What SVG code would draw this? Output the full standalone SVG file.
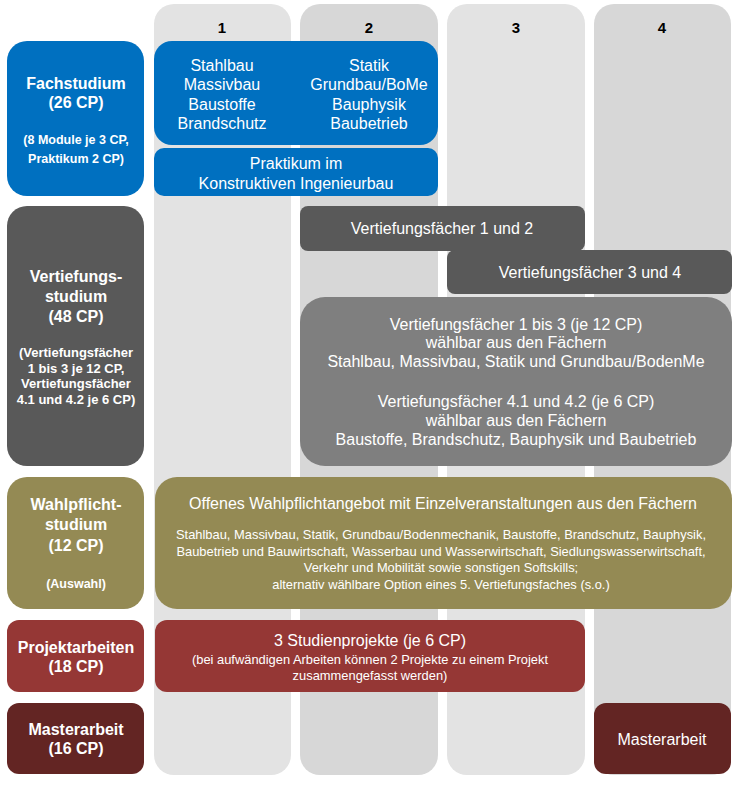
<svg xmlns="http://www.w3.org/2000/svg" width="744" height="785" viewBox="0 0 744 785">
<style>
text{font-family:"Liberation Sans",Arial,sans-serif;text-anchor:middle;fill:#fff}
.h{font-weight:bold;font-size:15px;fill:#000}
.t{font-weight:bold;font-size:16px}
.s{font-weight:bold;font-size:12.5px}
.s2{font-weight:bold;font-size:13px}
.r{font-size:16px}
.m{font-size:12.9px}
.ca{fill:#e3e3e3}
.cb{fill:#d7d7d7}
.blue{fill:#0070c0}
.dg{fill:#595959}
.mg{fill:#7f7f7f}
.ol{fill:#948a54}
.red{fill:#953735}
.dr{fill:#632523}
</style>
<rect width="744" height="785" fill="#fff"/>
<g id="columns">
<rect class="ca" x="154" y="4" width="137" height="771" rx="20"/>
<rect class="cb" x="300" y="4" width="138" height="771" rx="20"/>
<rect class="ca" x="447" y="4" width="138" height="771" rx="20"/>
<rect class="cb" x="594" y="4" width="137" height="771" rx="20"/>
<text class="h" x="222" y="33">1</text>
<text class="h" x="369" y="33">2</text>
<text class="h" x="516" y="33">3</text>
<text class="h" x="662" y="33">4</text>
</g>
<g id="fachstudium">
<rect class="blue" x="7" y="41" width="137" height="155" rx="20"/>
<text class="t" x="76" y="89">Fachstudium</text>
<text class="t" x="76" y="108">(26 CP)</text>
<text class="s" x="76" y="144">(8 Module je 3 CP,</text>
<text class="s" x="76" y="163">Praktikum 2 CP)</text>
</g>
<g id="faecher">
<rect class="blue" x="154" y="41" width="284" height="104" rx="18"/>
<text class="r" x="222" y="71">Stahlbau</text>
<text class="r" x="222" y="90">Massivbau</text>
<text class="r" x="222" y="110">Baustoffe</text>
<text class="r" x="222" y="129">Brandschutz</text>
<text class="r" x="369" y="71">Statik</text>
<text class="r" x="369" y="90">Grundbau/BoMe</text>
<text class="r" x="369" y="110">Bauphysik</text>
<text class="r" x="369" y="129">Baubetrieb</text>
</g>
<g id="praktikum">
<rect class="blue" x="154" y="148" width="284" height="48" rx="10"/>
<text class="r" x="296" y="169">Praktikum im</text>
<text class="r" x="296" y="189">Konstruktiven Ingenieurbau</text>
</g>
<g id="vertiefungsstudium">
<rect class="dg" x="7" y="206" width="137" height="260" rx="20"/>
<text class="t" x="76" y="282">Vertiefungs-</text>
<text class="t" x="76" y="302">studium</text>
<text class="t" x="76" y="322">(48 CP)</text>
<text class="s2" x="76" y="357">(Vertiefungsfächer</text>
<text class="s2" x="76" y="373">1 bis 3 je 12 CP,</text>
<text class="s2" x="76" y="388">Vertiefungsfächer</text>
<text class="s2" x="76" y="404">4.1 und 4.2 je 6 CP)</text>
</g>
<g id="vf12">
<rect class="dg" x="300" y="206" width="285" height="45" rx="8"/>
<text class="r" x="442" y="234">Vertiefungsfächer 1 und 2</text>
</g>
<g id="vf34">
<rect class="dg" x="447" y="250" width="285" height="44" rx="8"/>
<text class="r" x="590" y="278">Vertiefungsfächer 3 und 4</text>
</g>
<g id="vfdetail">
<rect class="mg" x="300" y="297" width="432" height="169" rx="25"/>
<text class="r" x="516" y="330">Vertiefungsfächer 1 bis 3 (je 12 CP)</text>
<text class="r" x="516" y="348">wählbar aus den Fächern</text>
<text class="r" x="516" y="367">Stahlbau, Massivbau, Statik und Grundbau/BodenMe</text>
<text class="r" x="516" y="407">Vertiefungsfächer 4.1 und 4.2 (je 6 CP)</text>
<text class="r" x="516" y="426">wählbar aus den Fächern</text>
<text class="r" x="516" y="445">Baustoffe, Brandschutz, Bauphysik und Baubetrieb</text>
</g>
<g id="wahlpflichtstudium">
<rect class="ol" x="7" y="477" width="137" height="132" rx="20"/>
<text class="t" x="76" y="510">Wahlpflicht-</text>
<text class="t" x="76" y="530">studium</text>
<text class="t" x="76" y="551">(12 CP)</text>
<text class="s" x="76" y="588">(Auswahl)</text>
</g>
<g id="wahlpflichtangebot">
<rect class="ol" x="155" y="477" width="577" height="132" rx="22"/>
<text class="r" x="443" y="509">Offenes Wahlpflichtangebot mit Einzelveranstaltungen aus den Fächern</text>
<text class="m" x="441" y="539">Stahlbau, Massivbau, Statik, Grundbau/Bodenmechanik, Baustoffe, Brandschutz, Bauphysik,</text>
<text class="m" x="441" y="556">Baubetrieb und Bauwirtschaft, Wasserbau und Wasserwirtschaft, Siedlungswasserwirtschaft,</text>
<text class="m" x="441" y="572">Verkehr und Mobilität sowie sonstigen Softskills;</text>
<text class="m" x="441" y="589">alternativ wählbare Option eines 5. Vertiefungsfaches (s.o.)</text>
</g>
<g id="projektarbeiten">
<rect class="red" x="7" y="620" width="137" height="72" rx="12"/>
<text class="t" x="76" y="653">Projektarbeiten</text>
<text class="t" x="76" y="672">(18 CP)</text>
</g>
<g id="studienprojekte">
<rect class="red" x="155" y="620" width="430" height="72" rx="12"/>
<text class="r" x="370" y="646">3 Studienprojekte (je 6 CP)</text>
<text class="m" x="370" y="664">(bei aufwändigen Arbeiten können 2 Projekte zu einem Projekt</text>
<text class="m" x="370" y="680">zusammengefasst werden)</text>
</g>
<g id="masterarbeit">
<rect class="dr" x="7" y="703" width="137" height="71" rx="12"/>
<text class="t" x="76" y="735">Masterarbeit</text>
<text class="t" x="76" y="754">(16 CP)</text>
</g>
<g id="masterarbeit4">
<rect class="dr" x="594" y="703" width="137" height="71" rx="12"/>
<text class="r" x="662" y="745">Masterarbeit</text>
</g>
<g id="connectors"/>
</svg>
